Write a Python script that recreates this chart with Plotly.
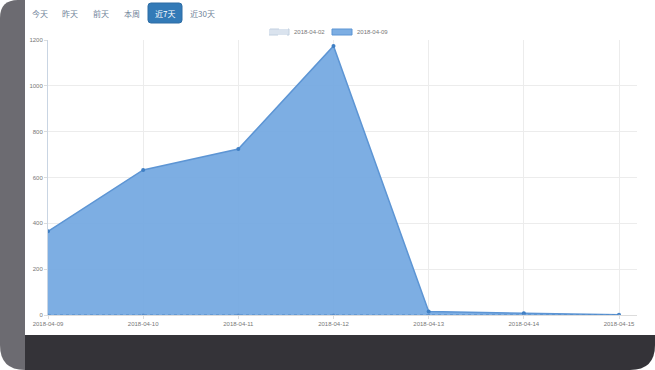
import plotly.graph_objects as go

categories = ["2018-04-09", "2018-04-10", "2018-04-11", "2018-04-12",
              "2018-04-13", "2018-04-14", "2018-04-15"]
series_prev_name = "2018-04-02"
series_prev = [0, 0, 0, 0, 0, 0, 0]
series_cur_name = "2018-04-09"
series_cur = [365, 633, 724, 1174, 15, 8, 1]
buttons = ["今天", "昨天", "前天", "本周", "近7天", "近30天"]
active_button = "近7天"
y_ticks = [0, 200, 400, 600, 800, 1000, 1200]

W, H = 655, 370
L, R, T, B = 48, 18, 40, 55
PW, PH = W - L - R, H - T - B


def px(x):
    return (x - L) / PW


def py(y):
    return (H - B - y) / PH


def rpath(x0, y0, x1, y1, r):
    pts = [
        f"M {px(x0 + r)} {py(y0)}", f"L {px(x1 - r)} {py(y0)}",
        f"Q {px(x1)} {py(y0)} {px(x1)} {py(y0 + r)}",
        f"L {px(x1)} {py(y1 - r)}",
        f"Q {px(x1)} {py(y1)} {px(x1 - r)} {py(y1)}",
        f"L {px(x0 + r)} {py(y1)}",
        f"Q {px(x0)} {py(y1)} {px(x0)} {py(y1 - r)}",
        f"L {px(x0)} {py(y0 + r)}",
        f"Q {px(x0)} {py(y0)} {px(x0 + r)} {py(y0)} Z",
    ]
    return " ".join(pts)


CUR_FILL, CUR_LINE = "rgba(118,170,226,0.95)", "#5d95d4"
PREV_FILL, PREV_LINE = "rgba(220,228,238,0.7)", "#4f86c4"

fig = go.Figure()
fig.add_trace(go.Scatter(
    x=categories, y=series_cur, name=series_cur_name, mode="lines+markers",
    fill="tozeroy", fillcolor=CUR_FILL,
    line=dict(color=CUR_LINE, width=1.5),
    marker=dict(size=4, color="#3f7fc4"),
))
fig.add_trace(go.Scatter(
    x=categories, y=series_prev, name=series_prev_name, mode="lines+markers",
    fill="tozeroy", fillcolor=PREV_FILL,
    line=dict(color=PREV_LINE, width=1, dash="dot"),
    marker=dict(size=3, color="#5a8fcc"),
))

shapes = []
shapes.append(dict(type="path", xref="paper", yref="paper", layer="below",
                   path=(f"M {px(18)} {py(0)} L {px(25)} {py(0)} L {px(25)} {py(370)} "
                         f"Q {px(0)} {py(370)} {px(0)} {py(345)} "
                         f"L {px(0)} {py(18)} Q {px(0)} {py(0)} {px(18)} {py(0)} Z"),
                   fillcolor="#6c6b71", line=dict(width=0)))
shapes.append(dict(type="path", xref="paper", yref="paper", layer="below",
                   path=(f"M {px(25)} {py(335)} L {px(655)} {py(335)} L {px(655)} {py(345)} "
                         f"Q {px(655)} {py(370)} {px(630)} {py(370)} L {px(25)} {py(370)} Z"),
                   fillcolor="#343338", line=dict(width=0)))
shapes.append(dict(type="path", xref="paper", yref="paper",
                   path=rpath(148, 3, 182, 23, 3),
                   fillcolor="#337ab7", line=dict(color="#2e6da4", width=1)))

legend_items = [(series_prev_name, "rgba(214,224,236,0.9)", "#c2d0e0", "dash", 269),
                (series_cur_name, CUR_FILL, CUR_LINE, "solid", 332)]
annotations = []
for name, fc, lc, dash, bx in legend_items:
    shapes.append(dict(type="rect", xref="paper", yref="paper",
                       x0=px(bx), x1=px(bx + 20), y0=py(35), y1=py(29),
                       fillcolor=fc, line=dict(color=lc, width=1, dash=dash)))
    annotations.append(dict(text=name, x=px(bx + 23), y=py(32), xref="paper", yref="paper",
                            showarrow=False, xanchor="left", yanchor="middle",
                            font=dict(size=6, color="#777", family="Liberation Sans")))

btn_x = [40, 70, 101, 132, 165, 202]
for b, bx in zip(buttons, btn_x):
    annotations.append(dict(
        text=b, x=px(bx), y=py(13.5), xref="paper", yref="paper",
        showarrow=False, xanchor="center", yanchor="middle",
        font=dict(size=8, family="Noto Sans CJK SC",
                  color="#ffffff" if b == active_button else "#6f8399"),
    ))

fig.update_layout(
    width=W, height=H, margin=dict(l=L, r=R, t=T, b=B),
    paper_bgcolor="#ffffff", plot_bgcolor="#ffffff",
    shapes=shapes, annotations=annotations,
    showlegend=False,
    font=dict(family="Liberation Sans", size=6, color="#777"),
)
fig.update_xaxes(
    type="category", range=[0, 6 * PW / (619 - L)],
    showgrid=True, gridcolor="#ececec", gridwidth=1,
    showline=True, linecolor="#dcdcdc", linewidth=1,
    ticks="outside", ticklen=3, tickcolor="#dcdcdc",
    tickfont=dict(size=6, color="#777"), zeroline=False,
)
fig.update_yaxes(
    range=[0, 1200], tickvals=y_ticks,
    showgrid=True, gridcolor="#ececec", gridwidth=1,
    showline=True, linecolor="#c9d5e3", linewidth=1,
    ticks="outside", ticklen=3, tickcolor="#dcdcdc",
    tickfont=dict(size=6, color="#777"), zeroline=False,
)

fig.write_html("out.html")
